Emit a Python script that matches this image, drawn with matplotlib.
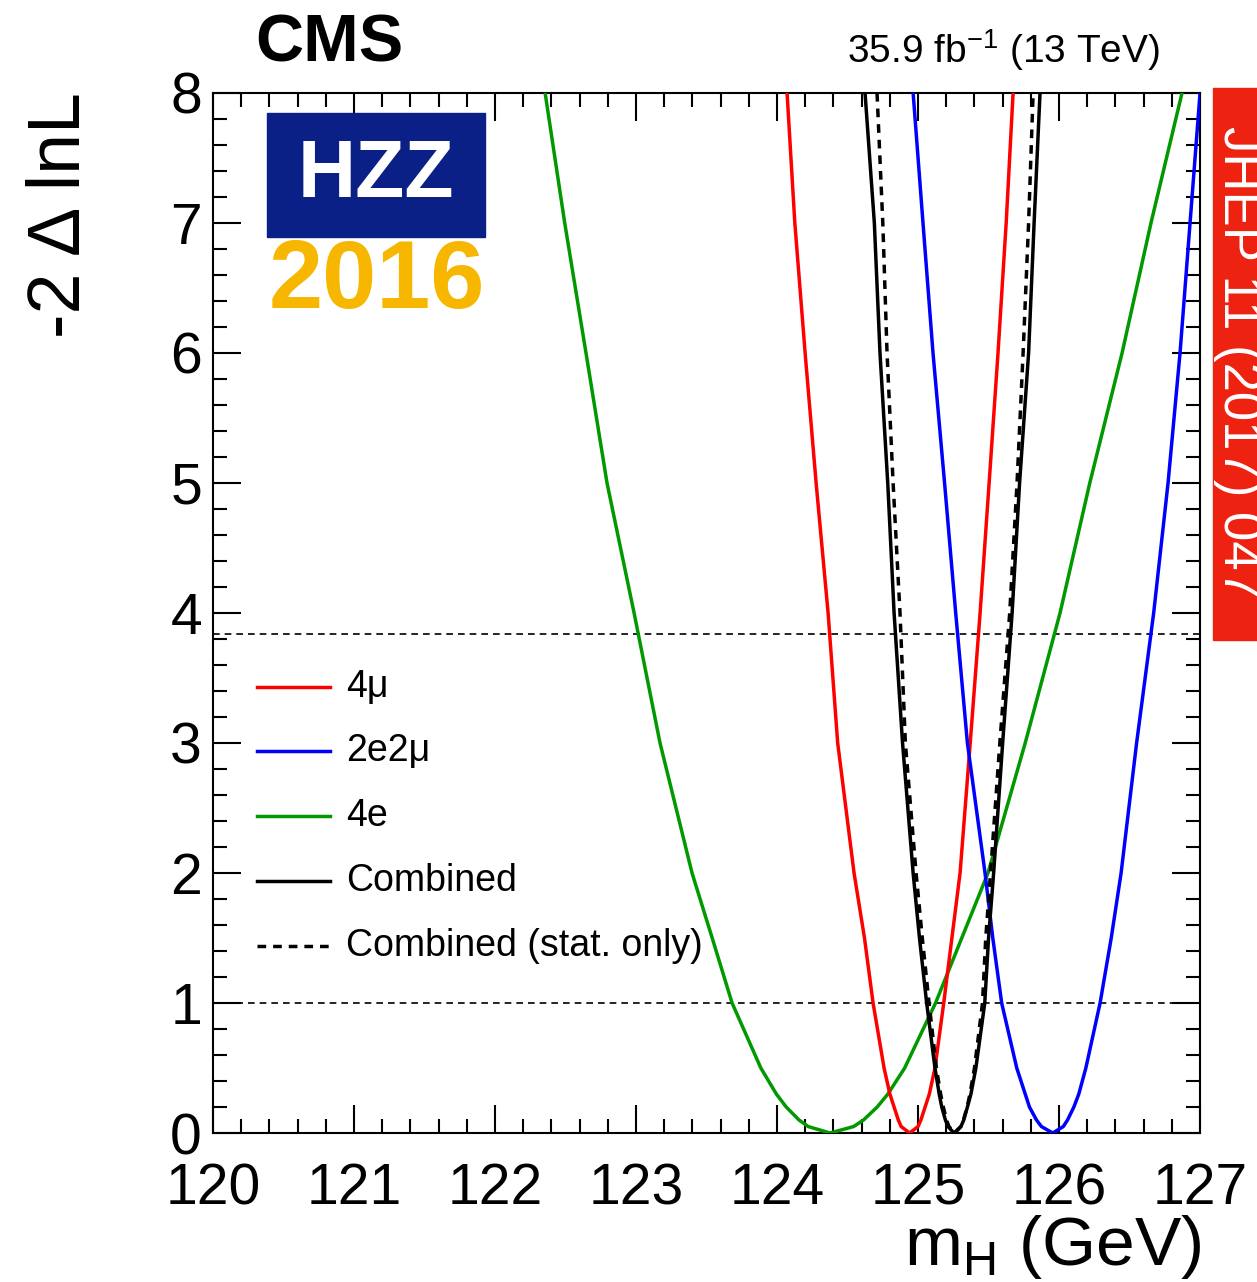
import numpy as np
import matplotlib
matplotlib.use("Agg")
import matplotlib.pyplot as plt
from matplotlib.ticker import MultipleLocator
from matplotlib.patches import Rectangle

plt.rcParams['font.family'] = ['Liberation Sans', 'DejaVu Sans']
plt.rcParams['mathtext.fontset'] = 'custom'
plt.rcParams['mathtext.rm'] = 'Liberation Sans'
plt.rcParams['mathtext.it'] = 'Liberation Sans:italic'

# -2 delta lnL levels at which curve crossings were read
nll_levels = [8, 7, 6, 5, 4, 3, 2, 1.5, 1, 0.5, 0.3, 0.2, 0.1, 0.05]

# left / right crossing positions (GeV) for each level, per channel
mu4_left = [124.071, 124.126, 124.199, 124.277, 124.362, 124.43, 124.546, 124.62, 124.681,
            124.759, 124.80, 124.83, 124.86, 124.88]
mu4_right = [125.674, 125.625, 125.567, 125.504, 125.44, 125.37, 125.298, 125.24, 125.182,
             125.12, 125.08, 125.05, 125.02, 125.0]
mu4_min = 124.94

e2mu2_left = [124.965, 125.035, 125.106, 125.188, 125.267, 125.35, 125.475, 125.53, 125.593,
              125.70, 125.76, 125.79, 125.84, 125.875]
e2mu2_right = [127.0, 126.929, 126.858, 126.773, 126.671, 126.55, 126.44, 126.37, 126.291,
               126.19, 126.14, 126.105, 126.06, 126.03]
e2mu2_min = 125.955

e4_left = [122.355, 122.494, 122.645, 122.794, 122.986, 123.17, 123.397, 123.54, 123.681,
           123.885, 123.995, 124.065, 124.156, 124.221]
e4_right = [126.872, 126.652, 126.447, 126.218, 126.007, 125.76, 125.496, 125.31, 125.124,
            124.905, 124.786, 124.71, 124.613, 124.543]
e4_min = 124.376

comb_left = [124.624, 124.69, 124.73, 124.785, 124.83, 124.89, 124.965, 125.01, 125.061,
             125.12, 125.15, 125.168, 125.194, 125.212]
comb_right = [125.865, 125.823, 125.784, 125.72, 125.667, 125.60, 125.536, 125.50, 125.473,
              125.41, 125.375, 125.35, 125.324, 125.304]
comb_min = 125.255

stat_left = [124.709, 124.75, 124.78, 124.823, 124.872, 124.91, 124.986, 125.03, 125.078,
             125.13, 125.16, 125.179, 125.202, 125.219]
stat_right = [125.816, 125.784, 125.745, 125.702, 125.65, 125.58, 125.514, 125.48, 125.457,
              125.40, 125.368, 125.348, 125.322, 125.304]
stat_min = 125.26

labels = ['4μ', '2e2μ', '4e', 'Combined', 'Combined (stat. only)']


def scan(left, right, xmin):
    x = list(left) + [xmin] + list(reversed(right))
    y = nll_levels + [0] + list(reversed(nll_levels))
    return x, y


fig = plt.figure(figsize=(12.57, 12.82), dpi=100)
ax = fig.add_axes([0.1695, 0.1162, 0.9547 - 0.1695, 0.9275 - 0.1162])

lw = 2.5
ax.axhline(1.0, color='black', lw=1.2, ls=(0, (4, 3)), zorder=1)
ax.axhline(3.84, color='black', lw=1.2, ls=(0, (4, 3)), zorder=1)

curves = [
    (scan(e4_left, e4_right, e4_min), dict(color='#009900', ls='-')),
    (scan(mu4_left, mu4_right, mu4_min), dict(color='#ff0000', ls='-')),
    (scan(e2mu2_left, e2mu2_right, e2mu2_min), dict(color='#0000ff', ls='-')),
    (scan(comb_left, comb_right, comb_min), dict(color='black', ls='-')),
    (scan(stat_left, stat_right, stat_min), dict(color='black', ls=(0, (2.5, 2)))),
]
for (x, y), style in curves:
    ax.plot(x, y, lw=lw, zorder=3, solid_joinstyle='round', **style)

ax.set_xlim(120, 127)
ax.set_ylim(0, 8)
ax.xaxis.set_major_locator(MultipleLocator(1))
ax.xaxis.set_minor_locator(MultipleLocator(0.2))
ax.yaxis.set_major_locator(MultipleLocator(1))
ax.yaxis.set_minor_locator(MultipleLocator(0.2))
ax.tick_params(which='both', direction='in', top=True, right=True, width=1.5, labelsize=41)
ax.tick_params(which='major', length=20)
ax.tick_params(which='minor', length=10)
ax.tick_params(axis='x', which='major', pad=21)
ax.tick_params(axis='y', which='major', pad=8)
for s in ax.spines.values():
    s.set_linewidth(1.5)

# legend drawn by hand in figure fraction
leg_colors = [('#ff0000', '-'), ('#0000ff', '-'), ('#009900', '-'), ('black', '-'), ('black', (0, (2.5, 2)))]
leg_y = [687, 751, 816, 881, 946]
for (c, ls), py, lab in zip(leg_colors, leg_y, labels):
    fy = 1 - py / 1282
    fig.add_artist(plt.Line2D([257 / 1257, 330 / 1257], [fy, fy], color=c, ls=ls, lw=lw))
    fig.text(346 / 1257, fy, lab, fontsize=27, va='center', ha='left')

# axis titles
fig.text(60 / 1257, 1 - 92 / 1282, '-2 Δ lnL', rotation=90, fontsize=53, ha='center', va='top')
fig.text(1202 / 1257, 1 - 1247 / 1282, r'm$_{\mathrm{H}}$ (GeV)', fontsize=50, ha='right', va='center')

# header
fig.text(255 / 1257, 1 - 44 / 1282, 'CMS', fontsize=48, fontweight='bold', ha='left', va='center')
fig.text(1160 / 1257, 1 - 50 / 1282, r'35.9 fb$^{-1}$ (13 TeV)', fontsize=28, ha='right', va='center')

# HZZ logo
fig.add_artist(Rectangle((267 / 1257, 1 - 237 / 1282), 218 / 1257, 124 / 1282,
                         transform=fig.transFigure, color='#0b2086', zorder=5))
fig.text(376 / 1257, 1 - 176 / 1282, 'HZZ', fontsize=58, color='white', fontweight='bold',
         ha='center', va='center', zorder=6)
fig.text(377 / 1257, 1 - 283 / 1282, '2016', fontsize=70, color='#f7b600', fontweight='bold',
         ha='center', va='center', zorder=6)

# journal banner (text runs past the right edge, as in the original)
fig.add_artist(Rectangle((1213 / 1257, 1 - 640 / 1282), 44 / 1257, 552 / 1282,
                         transform=fig.transFigure, color='#ee2211', zorder=5))
fig.text(1238 / 1257, 1 - 362 / 1282, 'JHEP 11 (2017) 047', fontsize=38, color='white',
         rotation=-90, ha='center', va='center', zorder=6)

fig.savefig('out.png', dpi=100)
